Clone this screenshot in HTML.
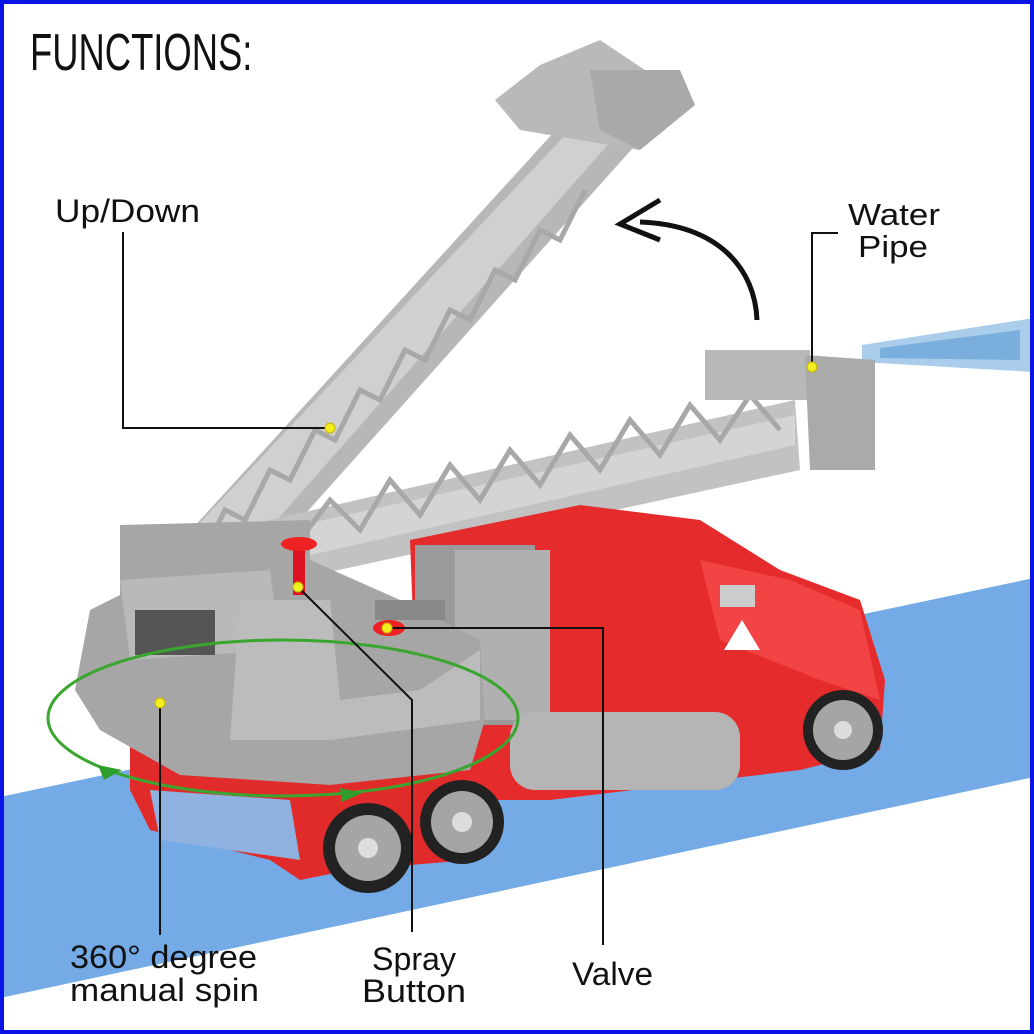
<!DOCTYPE html>
<html><head><meta charset="utf-8"><style>
html,body{margin:0;padding:0;background:#fff}
svg{display:block}
text{font-family:"Liberation Sans",sans-serif;fill:#111}
</style></head><body>
<svg width="1034" height="1034" viewBox="0 0 1034 1034" xmlns="http://www.w3.org/2000/svg">
<rect x="0" y="0" width="1034" height="1034" fill="#fff"/>
<polygon points="0,797 1034,578 1034,777 0,998" fill="#74aae6"/>
<polygon points="862,345 1034,318 1034,372 862,362" fill="#a9cdeb"/>
<polygon points="880,348 1020,330 1020,360 880,358" fill="#5c9bd3" opacity="0.6"/>
<!-- upper ladder -->
<polygon points="150,575 255,570 640,140 565,120" fill="#b7b7b7"/>
<polygon points="160,565 240,562 612,140 570,130" fill="#d0d0d0"/>
<g stroke="#a8a8a8" stroke-width="5" fill="none">
<polyline points="200,560 225,510 245,520 270,470 290,480 315,430 335,440 360,390 380,400 405,350 425,360 450,310 470,320 495,270 515,280 540,230 560,240 585,190"/>
</g>
<polygon points="495,100 540,65 600,40 690,100 640,150 520,130" fill="#b9b9b9"/>
<polygon points="590,70 680,70 695,105 640,150 600,130" fill="#a9a9a9"/>
<!-- lower ladder -->
<polygon points="160,545 795,400 800,470 200,600" fill="#c2c2c2"/>
<polygon points="190,550 795,415 795,445 200,580" fill="#d4d4d4"/>
<g stroke="#a8a8a8" stroke-width="5" fill="none">
<polyline points="300,540 330,500 360,530 390,480 420,515 450,465 480,500 510,450 540,485 570,435 600,470 630,420 660,455 690,405 720,440 750,395 780,430"/>
</g>
<polygon points="705,350 810,350 810,400 705,400" fill="#b8b8b8"/>
<polygon points="805,355 875,360 875,470 810,470" fill="#aaaaaa"/>
<!-- red truck -->
<polygon points="410,540 580,505 700,520 780,570 860,600 885,680 880,750 800,770 550,800 420,800" fill="#e52b2b"/>
<polygon points="700,560 790,580 860,610 880,700 820,680 720,640" fill="#f24444"/>
<polygon points="130,745 420,760 480,790 470,860 350,870 300,880 270,860 150,830 130,790" fill="#e12a2a"/>
<polygon points="150,790 290,800 300,860 160,840" fill="#8fb2e0"/>
<rect x="415" y="545" width="120" height="180" fill="#9a9a9a"/>
<rect x="455" y="550" width="95" height="170" fill="#b0b0b0"/>
<rect x="510" y="712" width="230" height="78" rx="25" fill="#b5b5b5"/>
<!-- gray base -->
<polygon points="120,525 310,520 310,560 400,600 480,640 485,720 470,770 330,785 180,775 100,730 75,690 90,610 120,595" fill="#a6a6a6"/>
<polygon points="120,580 270,570 280,650 130,660" fill="#b9b9b9"/>
<rect x="135" y="610" width="80" height="45" fill="#555"/>
<polygon points="240,600 330,600 340,700 420,690 480,650 480,720 330,740 230,740" fill="#bcbcbc"/>
<g>
<circle cx="368" cy="848" r="45" fill="#222"/><circle cx="368" cy="848" r="33" fill="#a5a5a5"/><circle cx="368" cy="848" r="10" fill="#ddd"/>
<circle cx="462" cy="822" r="42" fill="#222"/><circle cx="462" cy="822" r="31" fill="#a5a5a5"/><circle cx="462" cy="822" r="10" fill="#ddd"/>
<circle cx="843" cy="730" r="40" fill="#222"/><circle cx="843" cy="730" r="30" fill="#a5a5a5"/><circle cx="843" cy="730" r="9" fill="#ddd"/>
</g>
<rect x="720" y="585" width="35" height="22" fill="#ccc"/>
<polygon points="742,620 760,650 724,650" fill="#fff"/>
<rect x="293" y="545" width="12" height="50" fill="#d12"/>
<ellipse cx="299" cy="544" rx="18" ry="7" fill="#e22"/>
<ellipse cx="389" cy="628" rx="16" ry="8" fill="#e22"/>
<rect x="375" y="600" width="70" height="20" fill="#888"/>
<ellipse cx="283" cy="718" rx="235" ry="78" fill="none" stroke="#3aa52f" stroke-width="3"/>
<polygon points="98,765 122,770 104,780" fill="#2e9e2a"/>
<polygon points="340,788 362,793 342,802" fill="#2e9e2a"/>
<path d="M757,320 C755,270 720,225 640,222" fill="none" stroke="#111" stroke-width="5"/>
<path d="M660,200 L620,224 L660,240" fill="none" stroke="#111" stroke-width="5"/>
<g stroke="#111" stroke-width="2" fill="none">
<polyline points="123,232 123,428 330,428"/>
<polyline points="838,233 812,233 812,367"/>
<polyline points="160,703 160,935"/>
<polyline points="298,587 412,700 412,932"/>
<polyline points="387,628 603,628 603,945"/>
</g>
<g fill="#f2ef20" stroke="#c8b400" stroke-width="1">
<circle cx="330" cy="428" r="5"/><circle cx="812" cy="367" r="5"/><circle cx="160" cy="703" r="5"/>
<circle cx="298" cy="587" r="5"/><circle cx="387" cy="628" r="5"/>
</g>
<text x="30" y="70" font-size="52" transform="translate(30 0) scale(0.7 1) translate(-30 0)">FUNCTIONS:</text>
<text x="55" y="222" font-size="32" textLength="145" lengthAdjust="spacingAndGlyphs">Up/Down</text>
<text x="848" y="225" font-size="31" textLength="92" lengthAdjust="spacingAndGlyphs">Water</text>
<text x="858" y="257" font-size="31" textLength="70" lengthAdjust="spacingAndGlyphs">Pipe</text>
<text x="70" y="968" font-size="32" textLength="187" lengthAdjust="spacingAndGlyphs">360° degree</text>
<text x="70" y="1001" font-size="32" textLength="189" lengthAdjust="spacingAndGlyphs">manual spin</text>
<text x="372" y="970" font-size="32" textLength="84" lengthAdjust="spacingAndGlyphs">Spray</text>
<text x="362" y="1002" font-size="32" textLength="104" lengthAdjust="spacingAndGlyphs">Button</text>
<text x="572" y="985" font-size="32" textLength="81" lengthAdjust="spacingAndGlyphs">Valve</text>
<rect x="2" y="2" width="1030" height="1030" fill="none" stroke="#0a14e6" stroke-width="4"/>
</svg>
</body></html>
